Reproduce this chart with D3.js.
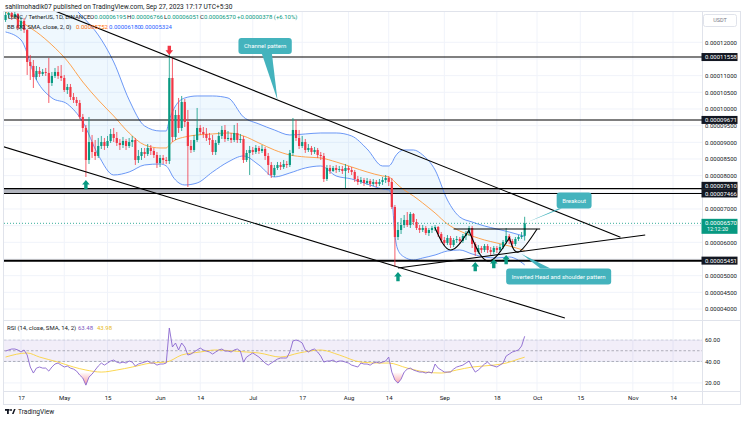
<!DOCTYPE html>
<html><head><meta charset="utf-8">
<script src="https://cdn.jsdelivr.net/npm/d3@7/dist/d3.min.js"></script>
<style>
html,body{margin:0;padding:0;background:#fff;overflow:hidden}
svg{display:block}
text{font-family:Roboto,"Liberation Sans",Arial,sans-serif}
</style></head><body>
<svg id="chart" width="745" height="422"></svg>
<script>
// ================= DATA (prices in units of 0.00000001 USDT) =================
const firstCandleDate = "2023-04-12";
const candleOpen = [
12670,12820,12880,12760,12850,
12430,12640,12370,11410,11290,10960,11140,11050,11110,11080,
10780,10990,11110,10990,10930,10570,10660,10360,10270,10180,
9760,9430,8470,9010,8710,8590,8890,9010,8890,9040,
9250,9130,8980,8920,9040,8890,9010,9070,8470,8590,
8710,8650,8830,8740,8620,8380,8530,8470,8440,10930,
9160,9820,9430,10210,9610,8890,8770,9070,9430,9310,
9250,9130,9070,8710,8980,9190,9370,9100,9130,9070,
9280,9070,9100,8470,8680,8770,8710,8830,8740,8800,
8590,8320,8020,8230,8320,8260,8350,8320,8680,9370,
9130,8890,9010,8770,8830,8710,8770,8620,8590,7900,
8230,8140,8230,8170,8200,8140,8230,8170,8110,7900,
7810,7870,7780,7840,7750,7810,7750,7810,7870,7930,
7810,7060,6160,6370,6520,6670,6520,6850,6610,6430,
6370,6430,6280,6370,6430,6460,6250,6070,5980,6130,
5920,6070,6100,6040,6190,6280,6430,5950,5710,5830,
5770,5890,5770,5710,5830,5770,5860,6010,6190,6040,
5950,6100,6160,6195];
const candleHigh = [
12910,12970,12940,12910,12880,
12760,12730,12400,11620,11470,11290,11260,11200,11230,11530,
11110,11230,11290,11320,11020,10750,10750,10480,10360,10270,
9850,9520,9760,9220,9070,9130,9190,9130,9190,9400,
9430,9310,9100,9160,9100,9130,9190,9130,8770,8830,
8830,8950,8920,8830,8710,8620,8620,8560,11680,11560,
9970,10330,10390,10300,9970,9070,9220,10030,9520,9460,
9430,9280,9220,9070,9310,9490,9520,9340,9280,9520,
9580,9250,9190,8770,8890,8860,8920,8890,8920,8860,
8680,8410,8320,8410,8410,8470,8440,8770,9730,9670,
9370,9190,9100,8950,8890,8860,8830,8710,8680,8320,
8320,8290,8320,8290,8290,8350,8290,8260,8170,7990,
7960,7930,7930,7900,7900,7870,7900,7960,8020,7990,
7930,7120,6610,6730,6820,6910,6910,6880,6700,6520,
6520,6490,6430,6490,6520,6490,6310,6160,6220,6190,
6130,6190,6160,6250,6340,6490,6490,6010,5920,5890,
5950,5950,5860,5890,5890,5950,6070,6430,6250,6100,
6160,6220,6310,6766];
const candleLow = [
12610,12730,12670,12700,12370,
12340,12280,11020,10870,10630,10870,10960,10990,10990,10180,
10690,10930,10900,10840,10510,10450,10270,10180,10090,9700,
9310,7960,8350,8530,8470,8530,8800,8770,8830,8980,
9010,8890,8770,8830,8770,8830,8860,8320,8380,8470,
8530,8590,8620,8530,8230,8260,8350,8350,8350,9010,
9070,9280,9340,9460,7660,8680,8710,9010,9220,9130,
9040,8920,8620,8620,8920,9100,9010,9040,8980,9010,
8980,8980,8380,8410,8020,8620,8650,8650,8680,8470,
8020,7930,7960,8170,8170,8200,8230,8260,8590,9040,
8800,8830,8680,8710,8620,8650,8530,8470,7810,7840,
8050,8110,8080,8110,8050,7630,8080,8020,7810,7720,
7750,7690,7720,7660,7690,7660,7690,7720,7780,7690,
7000,5260,6070,6250,6430,6460,6430,6520,6370,6280,
6310,6220,6190,6280,6340,6160,5980,5890,5920,5830,
5860,5980,5950,5980,6070,6190,5830,5590,5650,5680,
5710,5680,5620,5650,5680,5710,5800,5950,5950,5860,
5890,6040,6100,6051];
const candleClose = [
12820,12880,12760,12850,12430,
12640,12370,11410,11290,10960,11140,11050,11110,11080,10780,
10990,11110,10990,10930,10570,10660,10360,10270,10180,9760,
9430,8470,9010,8710,8590,8890,9010,8890,9040,9250,
9130,8980,8920,9040,8890,9010,9070,8470,8590,8710,
8650,8830,8740,8620,8380,8530,8470,8440,10930,9160,
9820,9430,10210,9610,8890,8770,9070,9430,9310,9250,
9130,9070,8710,8980,9190,9370,9100,9130,9070,9280,
9070,9100,8470,8680,8770,8710,8830,8740,8800,8590,
8320,8020,8230,8320,8260,8350,8320,8680,9370,9130,
8890,9010,8770,8830,8710,8770,8620,8590,7900,8230,
8140,8230,8170,8200,8140,8230,8170,8110,7900,7810,
7870,7780,7840,7750,7810,7750,7810,7870,7930,7810,
7060,6160,6370,6520,6670,6520,6850,6610,6430,6370,
6430,6280,6370,6430,6460,6250,6070,5980,6130,5920,
6070,6100,6040,6190,6280,6430,5950,5710,5830,5770,
5890,5770,5710,5830,5770,5860,6010,6190,6040,5950,
6100,6160,6192,6570];

// RSI(14) per candle
const rsiValues = [
49.7,50.7,51.6,51.6,50.7,
48.8,50.7,46.0,34.8,29.2,33.8,34.8,33.8,33.8,31.0,
34.8,37.6,38.5,36.6,34.8,35.7,33.8,32.9,31.0,27.3,
24.5,17.9,25.4,28.2,32.0,35.7,38.5,36.6,38.5,40.4,
41.3,39.4,38.5,39.4,38.5,40.4,39.4,35.7,37.6,38.5,
39.4,40.4,38.5,38.5,36.6,37.6,37.6,38.5,71.2,53.5,
57.2,50.7,57.2,53.5,46.0,46.9,48.8,50.7,52.5,50.7,
49.7,48.8,46.9,48.8,50.7,51.6,49.7,49.7,48.8,50.7,
51.6,49.7,39.4,44.1,46.0,47.9,46.0,44.1,41.3,38.5,
36.6,38.5,40.4,42.2,43.2,43.2,43.2,48.8,59.1,60.0,
59.1,57.2,50.7,48.8,50.7,51.6,48.8,45.0,39.4,40.4,
40.4,41.3,39.4,40.4,40.4,39.4,38.5,36.6,35.7,34.8,
38.5,37.6,37.6,36.6,38.5,39.4,38.5,39.4,40.4,44.1,
30.1,22.6,19.8,23.5,30.1,32.9,33.8,32.0,31.0,30.1,
30.1,29.2,30.1,29.2,37.6,33.8,32.0,30.1,30.1,30.1,
32.9,34.8,35.7,36.6,38.5,40.4,34.8,30.1,32.0,34.8,
37.6,39.4,36.6,35.7,34.8,36.6,38.5,45.0,46.9,48.8,
49.7,50.7,54.4,63.48];
const rsiSmaDates = ["2023-04-12","2023-04-19","2023-04-23","2023-04-29","2023-05-04","2023-05-08","2023-05-13","2023-05-18","2023-05-23","2023-05-29","2023-06-03","2023-06-08","2023-06-14","2023-06-19","2023-06-25","2023-06-29","2023-07-03","2023-07-10","2023-07-16","2023-07-23","2023-07-29","2023-08-05","2023-08-11","2023-08-14","2023-08-20","2023-08-26","2023-08-31","2023-09-05","2023-09-10","2023-09-17","2023-09-21","2023-09-25","2023-09-27"];
const rsiSmaValues = [44.1,47.9,44.1,39.4,34.8,32.0,30.1,32.0,34.8,38.5,39.4,46.0,48.8,50.7,49.7,48.8,47.9,44.1,47.9,50.7,46.0,39.4,38.5,38.5,33.8,30.1,29.2,32.0,34.8,36.6,38.5,42.2,43.98];

// Bollinger Bands (20, 2) sampled
const bbDates = ["2023-04-12","2023-04-17","2023-04-22","2023-04-27","2023-05-02","2023-05-07","2023-05-12","2023-05-17","2023-05-22","2023-05-27","2023-06-01","2023-06-03","2023-06-04","2023-06-05","2023-06-06","2023-06-09","2023-06-13","2023-06-18","2023-06-23","2023-06-28","2023-07-03","2023-07-08","2023-07-13","2023-07-18","2023-07-23","2023-07-28","2023-08-02","2023-08-07","2023-08-12","2023-08-14","2023-08-15","2023-08-16","2023-08-17","2023-08-19","2023-08-22","2023-08-25","2023-08-29","2023-09-02","2023-09-06","2023-09-10","2023-09-14","2023-09-18","2023-09-22","2023-09-27"];
const bbUpper = [14170,14020,13870,13570,13210,12760,12220,11410,10270,9490,9340,9340,9670,9910,10090,10330,10390,10390,10330,9760,9550,9370,9220,9250,9280,9280,9190,8800,8290,8290,8380,8560,8680,8770,8770,8620,8170,7270,6760,6610,6490,6400,6310,6180];
const bbBasis = [12910,12610,12310,11920,11440,10810,10270,9790,9280,8920,8830,8830,8920,9010,9070,9160,9220,9250,9280,9190,8980,8770,8620,8560,8530,8410,8260,8110,7990,7960,7900,7810,7720,7570,7390,7180,6880,6550,6340,6190,6070,5980,5890,5752];
const bbLower = [12310,12070,10870,10330,10150,9610,8620,8020,8110,8320,8350,8290,8170,7990,7870,7720,7780,8110,8410,8590,8320,7960,8080,8230,8290,7990,7900,7750,7600,7570,7330,6220,5770,5560,5470,5530,5620,5740,5770,5650,5560,5530,5560,5324];

const priceTicks = [4000,4500,5000,5500,6000,6500,7000,7500,8000,8500,9000,9500,10000,10500,11000,11500,12000];
const rsiTicks = [20,40,60];
const rsiLevels = [60,50,40];
const timeTickDates = ["2023-04-17","2023-05-01","2023-05-15","2023-06-01","2023-06-14","2023-07-01","2023-07-17","2023-08-01","2023-08-14","2023-09-01","2023-09-18","2023-10-01","2023-10-15","2023-11-01","2023-11-14"];
const timeTickLabels = ["17","May","15","Jun","14","Jul","17","Aug","14","Sep","18","Oct","15","Nov","14"];

const horizontalLevels = [11558, 9671, 7610, 7466, 5451];
const supportLevel = 5451;
const lastPrice = 6570;
const countdown = "12:12:20";

// drawings (date, price)
const channelUpper = [["2023-04-28",12940],["2023-10-28",6154]];
const channelLower = [["2023-04-11",8878],["2023-10-10",3730]];
const risingSupport = [["2023-08-17",5230],["2023-11-05",6220]];
const neckline = [["2023-09-04",6400],["2023-10-02",6400]];
const zoneDates = ["2023-04-08","2023-09-19"];
const zonePrices = [7610,7466];
const leftShoulder = [["2023-08-29",6430],["2023-09-03",5770],["2023-09-09",6370]];
const headCurve = [["2023-09-09",6340],["2023-09-15",5440],["2023-09-22",6130]];
const rightShoulder = [["2023-09-22",6160],["2023-09-25",5710],["2023-10-01",6400]];
const upArrowDates = ["2023-05-08","2023-08-17","2023-09-11","2023-09-17","2023-09-21"];
const upArrowPrices = [7870,5110,5410,5500,5620];
const downArrowDates = ["2023-06-04"];
const downArrowPrices = [11620];
const calloutTexts = ["Channel pattern","Breakout","Inverted Head and shoulder pattern"];
const calloutTips = [["2023-07-09",10270],["2023-09-28",6610],["2023-09-26",5650]];
const calloutBoxes = [["2023-07-05",11890],["2023-10-13",7255],["2023-10-08",4975]];

// ================= DRAWING =================
const svg = d3.select("#chart");
const parse = d3.utcParse("%Y-%m-%d");
const fmtP = v => (v * 1e-8).toFixed(8);
const UP = "#089981", DOWN = "#f23645", TXT = "#131722", GRID = "#f0f3fa", BORDER = "#e0e3eb";
const FONT = 6;

const L = 4, R = 702, mainT = 11, mainB = 320, rsiB = 391, axB = 404;
const x = d3.scaleUtc().domain([parse("2023-04-17"), parse("2023-11-14")]).range([21, 673]);
const y = d3.scaleLinear().domain([4000, 12000]).range([309, 42.3]);
const ry = d3.scaleLinear().domain([20, 60]).range([382.9, 340]);

const defs = svg.append("defs");
defs.append("clipPath").attr("id","cm").append("rect").attr("x",L).attr("y",mainT).attr("width",R-L).attr("height",mainB-mainT);
defs.append("clipPath").attr("id","cr").append("rect").attr("x",L).attr("y",mainB).attr("width",R-L).attr("height",rsiB-mainB);
defs.append("clipPath").attr("id","cos").append("rect").attr("x",L).attr("y",ry(30)).attr("width",R-L).attr("height",rsiB-ry(30));
defs.append("clipPath").attr("id","cob").append("rect").attr("x",L).attr("y",mainB).attr("width",R-L).attr("height",ry(70)-mainB);
const g1 = defs.append("linearGradient").attr("id","gos").attr("gradientUnits","userSpaceOnUse").attr("x1",0).attr("x2",0).attr("y1",ry(30)).attr("y2",ry(16));
g1.append("stop").attr("offset",0).attr("stop-color","#f23645").attr("stop-opacity",0);
g1.append("stop").attr("offset",1).attr("stop-color","#f23645").attr("stop-opacity",0.6);
const g2 = defs.append("linearGradient").attr("id","gob").attr("gradientUnits","userSpaceOnUse").attr("x1",0).attr("x2",0).attr("y1",ry(70)).attr("y2",ry(84));
g2.append("stop").attr("offset",0).attr("stop-color","#089981").attr("stop-opacity",0);
g2.append("stop").attr("offset",1).attr("stop-color","#089981").attr("stop-opacity",0.6);

svg.append("rect").attr("width",745).attr("height",422).attr("fill","#fff");

const tDates = timeTickDates.map(parse);
// grid
const grid = svg.append("g");
grid.selectAll(".v").data(tDates).join("line").attr("x1",d=>x(d)).attr("x2",d=>x(d)).attr("y1",mainT).attr("y2",rsiB).attr("stroke",GRID);
grid.selectAll(".h").data(priceTicks).join("line").attr("x1",L).attr("x2",R).attr("y1",d=>y(d)).attr("y2",d=>y(d)).attr("stroke",GRID);
grid.selectAll(".hr").data(rsiTicks).join("line").attr("x1",L).attr("x2",R).attr("y1",d=>ry(d)).attr("y2",d=>ry(d)).attr("stroke",GRID);

// ---------- main pane ----------
const gm = svg.append("g").attr("clip-path","url(#cm)");
// zone
gm.append("rect").attr("x",x(parse(zoneDates[0]))).attr("width",x(parse(zoneDates[1]))-x(parse(zoneDates[0])))
  .attr("y",y(zonePrices[0])).attr("height",y(zonePrices[1])-y(zonePrices[0])).attr("fill","#b2b5be");

// Bollinger
const bb = bbDates.map((d,i)=>({date:parse(d),u:bbUpper[i],b:bbBasis[i],l:bbLower[i]}));
gm.append("path").datum(bb).attr("d",d3.area().x(d=>x(d.date)).y0(d=>y(d.l)).y1(d=>y(d.u)).curve(d3.curveMonotoneX))
  .attr("fill","#2196f3").attr("fill-opacity",0.07);
[["u","#5b8cf5"],["l","#5b8cf5"],["b","#ff9a3c"]].forEach(([k,c])=>{
  gm.append("path").datum(bb).attr("d",d3.line().x(d=>x(d.date)).y(d=>y(d[k])).curve(d3.curveMonotoneX))
    .attr("fill","none").attr("stroke",c).attr("stroke-width",0.9);
});

// horizontal levels
gm.selectAll(".hl").data(horizontalLevels).join("line").attr("x1",L).attr("x2",R)
  .attr("y1",d=>y(d)).attr("y2",d=>y(d)).attr("stroke","#000").attr("stroke-width",d=>d===supportLevel?2:1.1);
// last price dotted
gm.append("line").attr("x1",L).attr("x2",R).attr("y1",y(lastPrice)).attr("y2",y(lastPrice))
  .attr("stroke",UP).attr("stroke-width",0.8).attr("stroke-dasharray","1,2");

// candles
const start = parse(firstCandleDate);
const candles = candleOpen.map((o,i)=>({date:d3.utcDay.offset(start,i),o,h:candleHigh[i],l:candleLow[i],c:candleClose[i]}));
const bw = 2.2;
const cg = gm.append("g");
cg.selectAll(".w").data(candles).join("line").attr("x1",d=>x(d.date)).attr("x2",d=>x(d.date))
  .attr("y1",d=>y(d.h)).attr("y2",d=>y(d.l)).attr("stroke",d=>d.c>=d.o?UP:DOWN).attr("stroke-width",0.8);
cg.selectAll(".b").data(candles).join("rect").attr("x",d=>x(d.date)-bw/2).attr("width",bw)
  .attr("y",d=>y(Math.max(d.o,d.c))).attr("height",d=>Math.max(0.8,Math.abs(y(d.o)-y(d.c))))
  .attr("fill",d=>d.c>=d.o?UP:DOWN);

// drawings
const pt = p => [x(parse(p[0])), y(p[1])];
const lineGen = d3.line();
[channelUpper, channelLower, risingSupport, neckline].forEach(seg=>{
  gm.append("path").attr("d",lineGen(seg.map(pt))).attr("stroke","#000").attr("stroke-width",1.1).attr("fill","none");
});
const curveGen = d3.line().curve(d3.curveNatural);
[leftShoulder, headCurve, rightShoulder].forEach(c=>{
  gm.append("path").attr("d",curveGen(c.map(pt))).attr("stroke","#000").attr("stroke-width",1.1).attr("fill","none");
});
// arrows
function arrow(cx, ty, dir, color){
  const hw=3.8, hh=4.6, sw=1.7, sl=4.6;
  const s = dir; // 1 = up (tip at top), -1 = down
  const p = [[cx,ty],[cx+hw,ty+s*hh],[cx+sw,ty+s*hh],[cx+sw,ty+s*(hh+sl)],[cx-sw,ty+s*(hh+sl)],[cx-sw,ty+s*hh],[cx-hw,ty+s*hh]];
  gm.append("path").attr("d","M"+p.map(q=>q.join(",")).join("L")+"Z").attr("fill",color);
}
upArrowDates.forEach((d,i)=>arrow(x(parse(d)), y(upArrowPrices[i]), 1, UP));
downArrowDates.forEach((d,i)=>arrow(x(parse(d)), y(downArrowPrices[i]), -1, DOWN));

// callouts
const CALL = "#44b3bd";
calloutTexts.forEach((t,i)=>{
  const [tx,ty] = pt(calloutTips[i]);
  const [cx,cy] = pt(calloutBoxes[i]);
  const tmp = gm.append("text").attr("font-size",FONT).text(t);
  const tw = tmp.node().getComputedTextLength(); tmp.remove();
  const w = tw + 11, h = 16;
  const dx = tx-cx, dy = ty-cy;
  const sx = (w/2)/Math.max(Math.abs(dx),1e-6), sy = (h/2)/Math.max(Math.abs(dy),1e-6);
  const s = Math.min(sx,sy);
  let bx = cx+dx*s, by = cy+dy*s, p1, p2;
  if (sy < sx){ const a=Math.max(cx-w/2+2,bx-5), b=Math.min(cx+w/2-2,bx+5); p1=[a,by]; p2=[b,by]; }
  else { const a=Math.max(cy-h/2+2,by-5), b=Math.min(cy+h/2-2,by+5); p1=[bx,a]; p2=[bx,b]; }
  gm.append("path").attr("d",`M${p1}L${tx},${ty}L${p2}Z`).attr("fill",CALL);
  gm.append("rect").attr("x",cx-w/2).attr("y",cy-h/2).attr("width",w).attr("height",h).attr("rx",3).attr("fill",CALL);
  gm.append("text").attr("x",cx).attr("y",cy).attr("dy","0.35em").attr("text-anchor","middle")
    .attr("font-size",FONT).attr("fill","#fff").text(t);
});

// ---------- RSI pane ----------
const gr = svg.append("g").attr("clip-path","url(#cr)");
gr.append("rect").attr("x",L).attr("width",R-L).attr("y",ry(60)).attr("height",ry(40)-ry(60)).attr("fill","#7e57c2").attr("fill-opacity",0.1);
gr.selectAll(".lv").data(rsiLevels).join("line").attr("x1",L).attr("x2",R).attr("y1",d=>ry(d)).attr("y2",d=>ry(d))
  .attr("stroke","#787b86").attr("stroke-opacity",d=>d===60?0.35:0.8).attr("stroke-width",0.7).attr("stroke-dasharray","2.5,2");
const rsi = candles.map((c,i)=>({date:c.date,v:rsiValues[i]}));
gr.append("path").datum(rsi).attr("clip-path","url(#cos)")
  .attr("d",d3.area().x(d=>x(d.date)).y0(ry(30)).y1(d=>ry(d.v))).attr("fill","url(#gos)");
gr.append("path").datum(rsi).attr("clip-path","url(#cob)")
  .attr("d",d3.area().x(d=>x(d.date)).y0(ry(70)).y1(d=>ry(d.v))).attr("fill","url(#gob)");
const sma = rsiSmaDates.map((d,i)=>({date:parse(d),v:rsiSmaValues[i]}));
gr.append("path").datum(sma).attr("d",d3.line().x(d=>x(d.date)).y(d=>ry(d.v)).curve(d3.curveMonotoneX))
  .attr("fill","none").attr("stroke","#fbd33f").attr("stroke-width",0.9);
gr.append("path").datum(rsi).attr("d",d3.line().x(d=>x(d.date)).y(d=>ry(d.v)))
  .attr("fill","none").attr("stroke","#8a67cf").attr("stroke-width",0.9);

// ---------- frame ----------
const fr = svg.append("g").attr("stroke",BORDER).attr("fill","none");
fr.append("rect").attr("x",3.5).attr("y",mainT+0.5).attr("width",737).attr("height",axB-mainT);
fr.append("line").attr("x1",R+0.5).attr("x2",R+0.5).attr("y1",mainT).attr("y2",axB);
fr.append("line").attr("x1",3.5).attr("x2",740.5).attr("y1",mainB+0.5).attr("y2",mainB+0.5);
fr.append("line").attr("x1",3.5).attr("x2",740.5).attr("y1",rsiB+0.5).attr("y2",rsiB+0.5);

// ---------- price axis ----------
const labelPrices = horizontalLevels.slice();
const hidden = priceTicks.filter(t => labelPrices.some(p=>Math.abs(y(p)-y(t))<5.5) || Math.abs(y(t)-y(lastPrice))<10 || y(t)<28);
const pa = svg.append("g").attr("transform",`translate(${R},0)`)
  .call(d3.axisRight(y).tickValues(priceTicks.filter(t=>!hidden.includes(t))).tickFormat(fmtP).tickSize(0).tickPadding(3));
pa.select(".domain").remove();
pa.selectAll("text").attr("font-size",FONT).attr("fill",TXT).attr("font-family",null);

// level labels with collision push
const lbl = horizontalLevels.map(p=>({p, yy:y(p)})).sort((a,b)=>a.yy-b.yy);
for (let i=lbl.length-2;i>=0;i--){ if (lbl[i+1].yy-lbl[i].yy<7.6) lbl[i].yy = lbl[i+1].yy-7.6; }
const lg = svg.append("g");
lbl.forEach(d=>{
  lg.append("rect").attr("x",R-0.5).attr("y",d.yy-4).attr("width",36).attr("height",8).attr("fill","#131722");
  lg.append("text").attr("x",R+3).attr("y",d.yy).attr("dy","0.35em").attr("font-size",FONT).attr("fill","#fff").text(fmtP(d.p));
});
// last price label
const ly = y(lastPrice);
lg.append("rect").attr("x",R-0.5).attr("y",ly-4.5).attr("width",36).attr("height",15).attr("fill",UP);
lg.append("text").attr("x",R+3).attr("y",ly).attr("dy","0.35em").attr("font-size",FONT).attr("fill","#fff").text(fmtP(lastPrice));
lg.append("text").attr("x",R+5).attr("y",ly+6.2).attr("dy","0.35em").attr("font-size",FONT-0.5).attr("fill","#fff").text(countdown);
// USDT box
lg.append("rect").attr("x",703.5).attr("y",14.5).attr("width",33).attr("height",12).attr("rx",2).attr("fill","#fff").attr("stroke",BORDER);
lg.append("text").attr("x",720).attr("y",20.5).attr("dy","0.35em").attr("text-anchor","middle").attr("font-size",FONT-0.5).attr("fill","#787b86").text("USDT");

// RSI axis
const ra = svg.append("g").attr("transform",`translate(${R},0)`)
  .call(d3.axisRight(ry).tickValues(rsiTicks).tickFormat(d=>d.toFixed(2)).tickSize(0).tickPadding(3));
ra.select(".domain").remove();
ra.selectAll("text").attr("font-size",FONT).attr("fill",TXT).attr("font-family",null);

// time axis
const ta = svg.append("g").attr("transform",`translate(0,${rsiB+6.5})`)
  .call(d3.axisBottom(x).tickValues(tDates).tickFormat((d,i)=>timeTickLabels[i]).tickSize(0).tickPadding(0));
ta.select(".domain").remove();
ta.selectAll("text").attr("y",0).attr("dy","0.35em").attr("font-size",FONT).attr("fill",TXT).attr("font-family",null);

// ---------- legends ----------
function seg(parent, xx, yy, parts, fs){
  const t = parent.append("text").attr("x",xx).attr("y",yy).attr("font-size",fs||FONT);
  parts.forEach(([s,c])=>t.append("tspan").attr("fill",c).text(s));
}
const hd = svg.append("g");
seg(hd, 5, 9, [["sahilmohadik07 published on TradingView.com, Sep 27, 2023 17:17 UTC+5:30", TXT]], 6.6);
const last = candles[candles.length-1];
const prevClose = candles[candles.length-2].c;
const chg = last.c - prevClose;
seg(hd, 8, 19, [["LUNC / TetherUS, 1D, BINANCE", TXT]]);
seg(hd, 90, 19, [["O",TXT],[fmtP(last.o),UP]]);
seg(hd, 127, 19, [["H",TXT],[fmtP(last.h),UP]]);
seg(hd, 164, 19, [["L",TXT],[fmtP(last.l),UP]]);
seg(hd, 200, 19, [["C",TXT],[fmtP(last.c),UP]]);
seg(hd, 237, 19, [["+"+fmtP(chg)+" (+"+(chg/prevClose*100).toFixed(2)+"%)",UP]]);
const lastBB = bb[bb.length-1];
seg(hd, 7, 29, [["BB (20, SMA, close, 2, 0)", TXT]]);
seg(hd, 76, 29, [[fmtP(lastBB.b), "#ff6d00"]]);
seg(hd, 109, 29, [[fmtP(lastBB.u), "#2962ff"]]);
seg(hd, 140, 29, [[fmtP(lastBB.l), "#2962ff"]]);
seg(hd, 7, 330, [["RSI (14, close, SMA, 14, 2)", TXT]]);
seg(hd, 78, 330, [[rsiValues[rsiValues.length-1].toFixed(2), "#7e57c2"]]);
seg(hd, 97, 330, [[rsiSmaValues[rsiSmaValues.length-1].toFixed(2), "#e8b923"]]);

// TradingView logo
const lgG = svg.append("g");
lgG.append("rect").attr("x",5).attr("y",409).attr("width",4.5).attr("height",1.8).attr("fill",TXT);
lgG.append("rect").attr("x",7).attr("y",409).attr("width",1.8).attr("height",5).attr("fill",TXT);
lgG.append("circle").attr("cx",11).attr("cy",410).attr("r",1).attr("fill",TXT);
lgG.append("path").attr("d","M12,414 L14,409 L15.6,409 L13.6,414 Z").attr("fill",TXT);
seg(lgG, 18, 414, [["TradingView", TXT]], 6.6);
</script>
</body></html>
